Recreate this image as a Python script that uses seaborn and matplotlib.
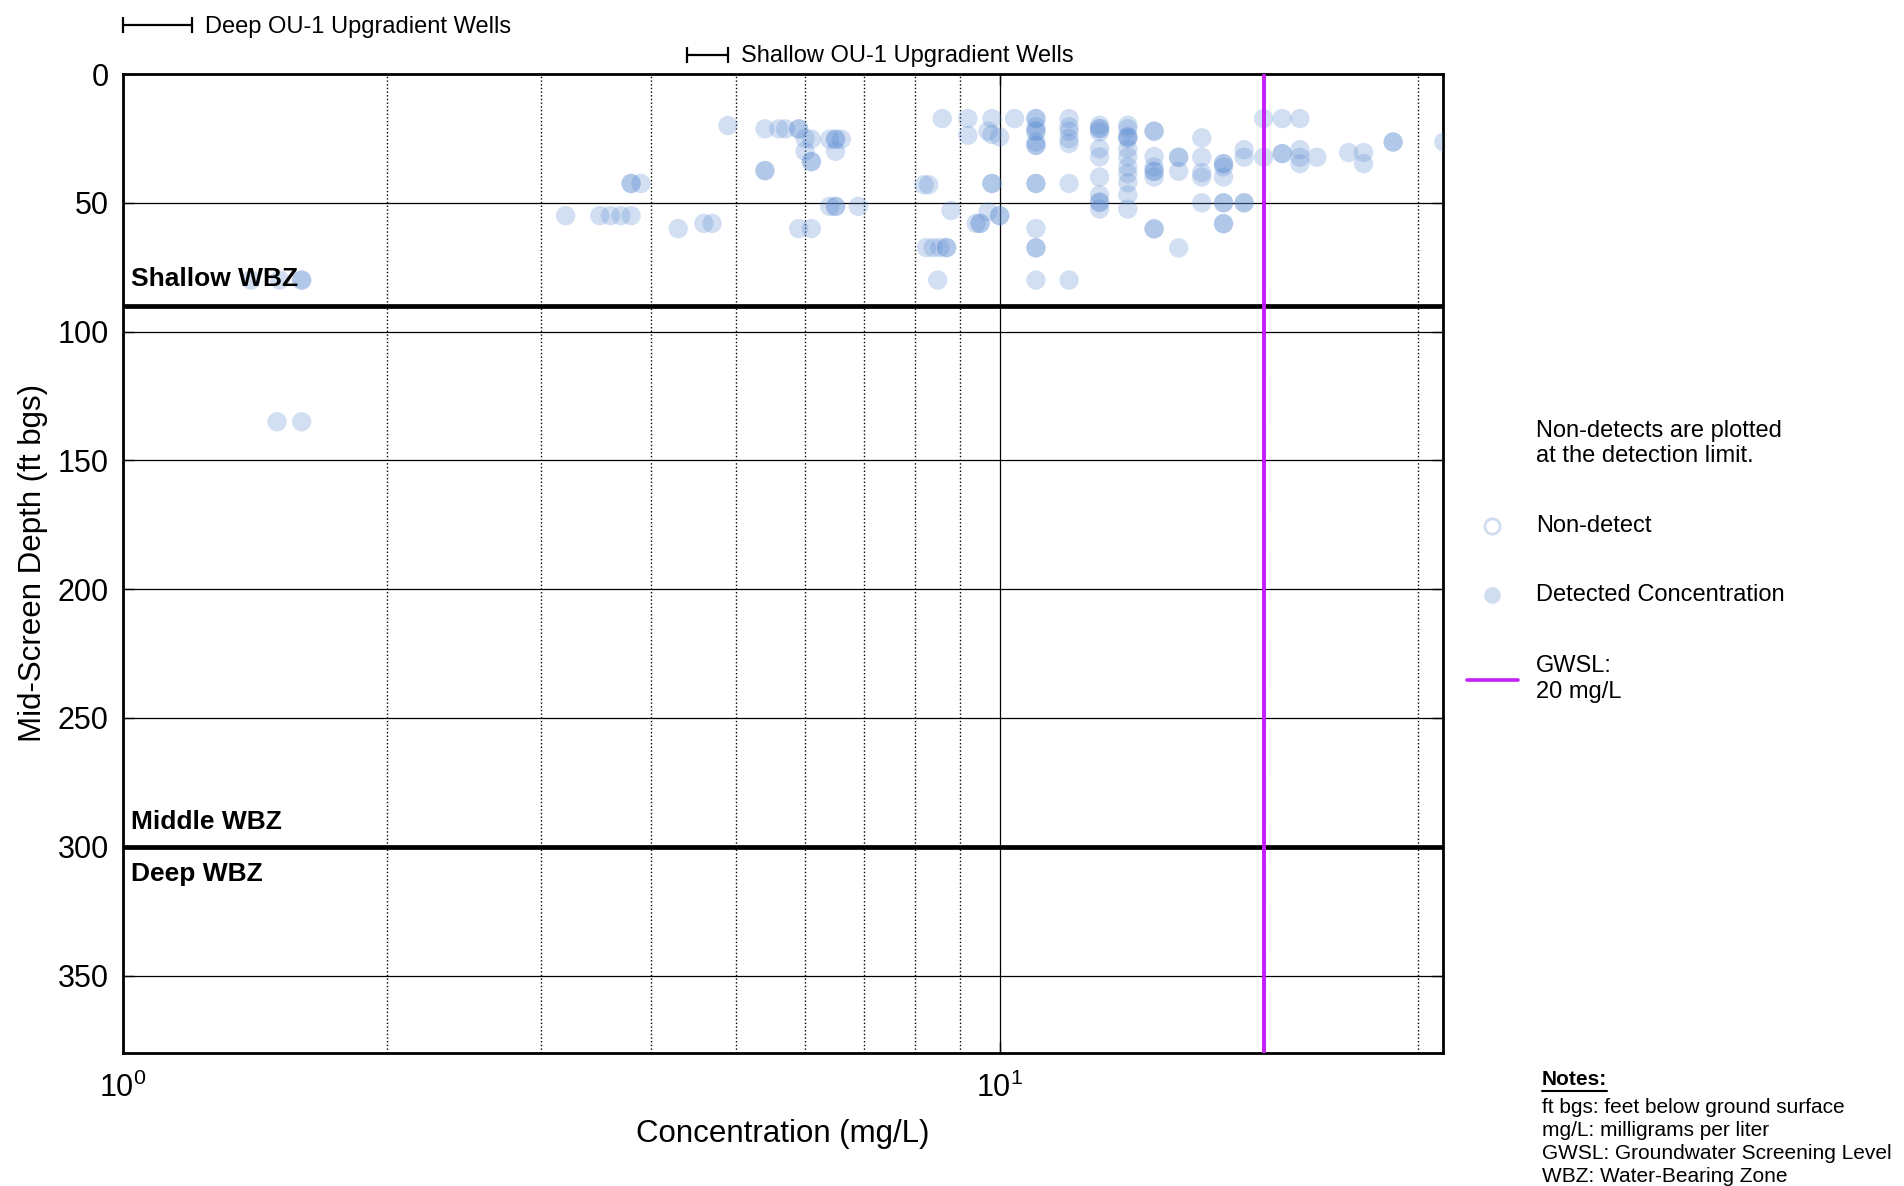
import numpy as np
import pandas as pd
import matplotlib
matplotlib.use("Agg")
import matplotlib.pyplot as plt
import matplotlib.ticker as mticker
import matplotlib.transforms as mtransforms
from matplotlib.lines import Line2D
import seaborn as sns

# detected concentrations (mg/L) and mid-screen depth (ft bgs)
conc = [1.40, 1.51, 1.60, 1.60, 1.50, 1.60,
        4.9, 5.4, 5.6, 5.7, 5.9, 5.9, 6.0, 6.1, 6.0, 6.1, 6.1, 5.4, 5.4,
        6.4, 6.5, 6.5, 6.6, 6.5, 8.6, 8.2, 8.3, 3.8, 3.8, 3.9,
        3.2, 3.5, 3.6, 3.7, 3.8, 4.3, 4.6, 4.7, 5.9, 6.1,
        6.4, 6.5, 6.5, 6.9, 8.8, 8.25, 8.4, 8.55, 8.7, 8.7, 8.5,
        9.2, 9.8, 10.4, 9.2, 9.7, 9.8, 10.0, 9.8, 9.8,
        9.7, 10.0, 10.0, 9.4, 9.5, 9.5,
        11.0, 11.0, 11.0, 11.0, 11.0, 11.0, 11.0, 11.0, 11.0, 11.0, 11.0, 11.0, 11.0, 11.0,
        12.0, 12.0, 12.0, 12.0, 12.0, 12.0, 12.0,
        13.0, 13.0, 13.0, 13.0, 13.0, 13.0, 13.0, 13.0, 13.0, 13.0, 13.0,
        14.0, 14.0, 14.0, 14.0, 14.0, 14.0, 14.0, 14.0, 14.0, 14.0, 14.0, 14.0,
        15.0, 15.0, 15.0, 15.0, 15.0, 15.0, 15.0, 15.0, 15.0,
        16.0, 16.0, 16.0, 16.0,
        17.0, 17.0, 17.0, 17.0, 17.0,
        18.0, 18.0, 18.0, 18.0, 18.0, 18.0, 18.0, 18.0,
        19.0, 19.0, 19.0, 19.0,
        20.0, 20.0, 21.0, 21.0, 21.0,
        22.0, 22.0, 22.0, 22.0, 23.0, 25.0, 26.0, 26.0, 28.1, 28.1, 32.1]
depth = [80, 80, 80, 80, 135, 135,
         20, 21.3, 21.3, 21.3, 21.3, 21.3, 25, 25.3, 30, 34, 34, 37.5, 37.5,
         25.3, 25.3, 25.3, 25.3, 30, 17.3, 43, 43, 42.5, 42.5, 42.5,
         55, 55, 55, 55, 55, 60, 58, 58, 60, 60,
         51.4, 51.4, 51.4, 51.4, 53, 67.4, 67.4, 67.4, 67.4, 67.4, 80,
         17.3, 17.3, 17.3, 23.8, 22.2, 23.5, 24.4, 42.5, 42.5,
         53.5, 55, 55, 58, 58, 58,
         17.3, 17.3, 20.5, 22.2, 22.2, 26.4, 27.7, 27.7, 42.5, 42.5, 60, 67.5, 67.5, 80,
         17.3, 20.5, 22.2, 25.1, 27, 42.5, 80,
         19.9, 21.2, 21.2, 22.5, 29, 32.2, 40, 46.9, 49.8, 49.8, 52.4,
         19.9, 21.2, 24.4, 24.4, 25.1, 29, 32.2, 36.1, 38.7, 42.2, 46.9, 52.4,
         22.2, 22.2, 32, 36.1, 37.8, 37.8, 40, 60.1, 60.1,
         32.3, 32.3, 37.8, 67.5,
         24.8, 32.3, 38.3, 40, 50,
         34.8, 34.8, 36.1, 40, 50, 50, 58.1, 58.1,
         29.4, 32.3, 50, 50,
         17.3, 32.3, 17.3, 30.9, 30.9,
         17.3, 29.4, 32.3, 34.8, 32.3, 30.5, 30.5, 34.8, 26.4, 26.4, 26.4]

gwsl = 20
wbz_bounds = [90, 300]
wbz_labels = ["Shallow WBZ", "Middle WBZ", "Deep WBZ"]
wbz_label_depths = [79.5, 290.5, 310.5]
upgradient_labels = ["Deep OU-1 Upgradient Wells", "Shallow OU-1 Upgradient Wells"]
upgradient_ranges = [(1.0, 1.2), (4.4, 4.9)]
upgradient_y = [-19.0, -7.5]
notes = ["ft bgs: feet below ground surface",
         "mg/L: milligrams per liter",
         "GWSL: Groundwater Screening Level",
         "WBZ: Water-Bearing Zone"]

df = pd.DataFrame({"conc": conc, "depth": depth})

sns.set_style("white")
plt.rcParams["font.family"] = ["Liberation Sans", "DejaVu Sans"]
plt.rcParams["mathtext.fontset"] = "custom"
plt.rcParams["mathtext.rm"] = "Liberation Sans"
plt.rcParams["mathtext.it"] = "Liberation Sans"
for k in ["text.color", "axes.labelcolor", "xtick.color", "ytick.color"]:
    plt.rcParams[k] = "black"

dot_color = "#5a8cd2"
light_color = "#d0dcf0"
purple = "#c41ff5"

fig = plt.figure(figsize=(19.04, 11.86), dpi=100)
ax = fig.add_axes([0.0644, 0.1123, 0.6933, 0.8253])

sns.scatterplot(data=df, x="conc", y="depth", ax=ax, color=dot_color, alpha=0.27,
                s=195, edgecolor="none", legend=False, zorder=3)

ax.set_xscale("log")
ax.set_xlim(1, 32)
ax.set_ylim(380, 0)
ax.yaxis.set_major_locator(mticker.MultipleLocator(50))
ax.xaxis.set_minor_formatter(mticker.NullFormatter())

ax.grid(which="major", axis="both", color="black", lw=0.9, ls="-")
ax.grid(which="minor", axis="x", color="black", lw=1.0, ls=":")
ax.set_axisbelow(True)

for b in wbz_bounds:
    ax.axhline(b, color="black", lw=3.4, zorder=4)
ax.axvline(gwsl, color=purple, lw=2.8, zorder=5)

trans = mtransforms.blended_transform_factory(ax.transAxes, ax.transData)
for lab, yy in zip(wbz_labels, wbz_label_depths):
    ax.text(0.0064, yy, lab, transform=trans, fontsize=19, fontweight="bold",
            va="center", ha="left", zorder=6)

for lab, (x0, x1), yy in zip(upgradient_labels, upgradient_ranges, upgradient_y):
    ax.plot([x0, x1], [yy, yy], color="black", lw=1.6, clip_on=False)
    ax.plot([x0, x1], [yy, yy], ls="none", marker="|", ms=12, mew=1.6,
            color="black", clip_on=False)
    ax.text(x1 * 1.035, yy + 0.6, lab, fontsize=17, va="center", ha="left", clip_on=False)

for s in ax.spines.values():
    s.set_linewidth(2)
    s.set_color("black")

ax.tick_params(axis="both", which="major", direction="in", length=8, width=1,
               labelsize=22, top=True, right=True, bottom=True, left=True, pad=10)
ax.tick_params(axis="both", which="minor", direction="in", length=0)
ax.tick_params(axis="x", which="major", pad=14)

ax.set_xlabel("Concentration (mg/L)", fontsize=22.5, labelpad=11)
ax.set_ylabel("Mid-Screen Depth (ft bgs)", fontsize=22.5, labelpad=7)

# legend drawn by hand
fig.text(0.8067, 0.6261, "Non-detects are plotted\nat the detection limit.",
         fontsize=17, va="center", ha="left", linespacing=1.22)
fig.add_artist(Line2D([0.7836], [0.5565], marker="o", ms=11, mfc="white",
                      mec=light_color, mew=2, ls="none", transform=fig.transFigure))
fig.text(0.8067, 0.5565, "Non-detect", fontsize=17, va="center", ha="left")
fig.add_artist(Line2D([0.7836], [0.4983], marker="o", ms=12, mfc=light_color,
                      mec="none", ls="none", transform=fig.transFigure))
fig.text(0.8067, 0.4983, "Detected Concentration", fontsize=17, va="center", ha="left")
fig.add_artist(Line2D([0.7705, 0.7973], [0.4266, 0.4266], color=purple, lw=2.6,
                      transform=fig.transFigure))
fig.text(0.8067, 0.4275, "GWSL:\n20 mg/L", fontsize=17, va="center", ha="left",
         linespacing=1.22)

# notes
nt = fig.text(0.8099, 0.0894, "Notes:", fontsize=15, fontweight="bold",
              va="center", ha="left")
fig.text(0.8099, 0.0372, "\n".join(notes), fontsize=15, va="center", ha="left",
         linespacing=1.27)
fig.canvas.draw()
bb = nt.get_window_extent().transformed(fig.transFigure.inverted())
fig.add_artist(Line2D([bb.x0, bb.x1], [bb.y0 - 0.001, bb.y0 - 0.001], color="black",
                      lw=1.5, transform=fig.transFigure))

fig.savefig("out.png", dpi=100)
